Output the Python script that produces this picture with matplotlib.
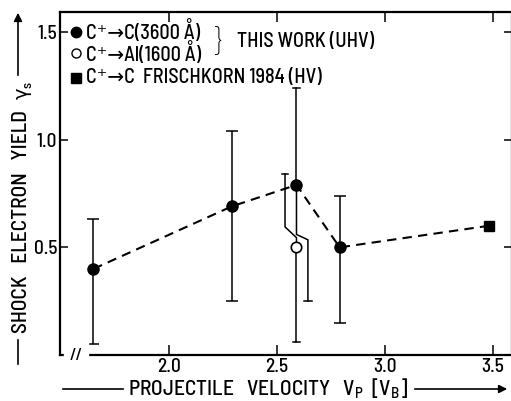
import matplotlib
matplotlib.use('Agg')
import matplotlib.pyplot as plt

# data
v_c = [1.65, 2.29, 2.59, 2.79]          # C+ -> C (3600 A), projectile velocity [v_B]
y_c = [0.40, 0.69, 0.79, 0.50]          # shock electron yield
y_c_hi = [0.63, 1.04, 1.24, 0.74]
y_c_lo = [0.05, 0.25, 0.25, 0.15]

v_al = [2.59]                            # C+ -> Al (1600 A)
y_al = [0.50]
y_al_hi = [0.84]
y_al_lo = [0.06]

v_fr = [3.48]                            # Frischkorn 1984 (HV)
y_fr = [0.60]

xticks = [2.0, 2.5, 3.0, 3.5]
yticks = [0.5, 1.0, 1.5]

fam = 'Barlow Semi Condensed'
plt.rcParams['font.family'] = [fam, 'DejaVu Sans']
plt.rcParams['font.weight'] = 'medium'
plt.rcParams['mathtext.fontset'] = 'custom'
plt.rcParams['mathtext.rm'] = fam
plt.rcParams['mathtext.it'] = fam

W, H = 511, 401
fig = plt.figure(figsize=(W/100, H/100), dpi=100)
ax = fig.add_axes([60/W, (H-355)/H, (512-60)/W, (355-12)/H])

# connecting dashed line through C targets + Frischkorn
ax.plot(v_c + v_fr, y_c + y_fr, 'k', ls=(0, (4.5, 3)), lw=1.5, zorder=2)

# simple error bars (all but the crowded 2.6 point)
for i in [0, 1, 3]:
    ax.errorbar(v_c[i], y_c[i], yerr=[[y_c[i]-y_c_lo[i]], [y_c_hi[i]-y_c[i]]],
                fmt='none', ecolor='k', elinewidth=1.1, capsize=4, capthick=1.1, zorder=1)

# crowded point at ~2.6: bars drawn with a side step so they don't overlap
dx = 0.053
x0 = v_c[2]
# filled point: upper straight, lower shifted right
ax.plot([x0, x0], [y_c[2], y_c_hi[2]], 'k', lw=1.1)
ax.plot([x0-0.018, x0+0.018], [y_c_hi[2]]*2, 'k', lw=1.1)
ax.plot([x0, x0, x0+dx, x0+dx], [y_c[2], 0.56, 0.535, y_c_lo[2]], 'k', lw=1.1)
ax.plot([x0+dx-0.018, x0+dx+0.018], [y_c_lo[2]]*2, 'k', lw=1.1)
# open point: upper shifted left, lower straight
xa = v_al[0]
ax.plot([xa-dx, xa-dx, xa, xa], [y_al_hi[0], 0.595, 0.545, y_al[0]], 'k', lw=1.1)
ax.plot([xa-dx-0.012, xa-dx+0.012], [y_al_hi[0]]*2, 'k', lw=1.1)
ax.plot([xa, xa], [y_al[0], y_al_lo[0]], 'k', lw=1.1)
ax.plot([xa-0.018, xa+0.018], [y_al_lo[0]]*2, 'k', lw=1.1)

ax.plot(v_c, y_c, 'ko', ms=8, zorder=3)
ax.plot(v_al, y_al, 'o', mfc='white', mec='k', mew=1.2, ms=7.5, zorder=3)
ax.plot(v_fr, y_fr, 'ks', ms=7.5, zorder=3)

ax.set_xlim(1.495, 3.588)
ax.set_ylim(0, 1.593)
ax.set_xticks(xticks)
ax.set_yticks(yticks)
ax.set_xticklabels([f'{t:.1f}' for t in xticks])
ax.set_yticklabels([f'{t:.1f}' for t in yticks])
ax.tick_params(direction='in', top=True, right=True, length=6, width=1.1,
               labelsize=14, pad=2)
ax.tick_params(axis='x', length=7.5)
for s in ax.spines.values():
    s.set_linewidth(1.6)

# axis break on x
ax.text(0.035, 0.0, '//', transform=ax.transAxes, ha='center', va='center',
        fontsize=12, backgroundcolor='white', clip_on=False)

# legend block
fs = 14.5
lx, tx = 0.036, 0.057
rows = [0.942, 0.880, 0.808]
ax.plot([lx], [rows[0]], 'ko', ms=7.5, transform=ax.transAxes, clip_on=False)
ax.plot([lx], [rows[1]], 'o', mfc='white', mec='k', ms=6.5, transform=ax.transAxes, clip_on=False)
ax.plot([lx], [rows[2]], 'ks', ms=7.5, transform=ax.transAxes, clip_on=False)
ax.text(tx, rows[0], 'C\u207a\u2192C(3600 \u00c5)', transform=ax.transAxes, va='center', fontsize=fs)
ax.text(tx, rows[1], 'C\u207a\u2192Al(1600 \u00c5)', transform=ax.transAxes, va='center', fontsize=fs)
ax.text(tx, rows[2], 'C\u207a\u2192C  FRISCHKORN 1984 (HV)', transform=ax.transAxes, va='center', fontsize=fs)
ax.text(0.338, 0.909, '}', transform=ax.transAxes, va='center', fontsize=24, weight='light')
ax.text(0.392, 0.913, 'THIS WORK (UHV)', transform=ax.transAxes, va='center', fontsize=fs)

# axis labels with their lines/arrows
def px(x, y):
    return (x/W, 1 - y/H)

fig.text(*px(268, 389), r'PROJECTILE   VELOCITY   $\mathrm{V}_{\mathrm{P}}$  [$\mathrm{V}_{\mathrm{B}}$]',
         ha='center', va='center', fontsize=15.5)
ax.annotate('', xy=px(126, 389), xytext=px(60, 389), xycoords='figure fraction',
            arrowprops=dict(arrowstyle='-', lw=1.2))
ax.annotate('', xy=px(510, 389), xytext=px(412, 389), xycoords='figure fraction',
            arrowprops=dict(arrowstyle='-|>', lw=1.2, color='k', mutation_scale=12))

fig.text(*px(22, 222), 'SHOCK   ELECTRON   YIELD', rotation=90, ha='center', va='center', fontsize=15.5)
fig.text(*px(22, 93), '\u03b3', rotation=90, ha='center', va='center', fontsize=14,
         family=['DejaVu Sans'])
fig.text(*px(28, 85), 's', rotation=90, ha='center', va='center', fontsize=10)
ax.annotate('', xy=px(18, 337), xytext=px(18, 367), xycoords='figure fraction',
            arrowprops=dict(arrowstyle='-', lw=1.2))
ax.annotate('', xy=px(18, 10), xytext=px(18, 78), xycoords='figure fraction',
            arrowprops=dict(arrowstyle='-|>', lw=1.2, color='k', mutation_scale=12))

fig.savefig('out.png', dpi=100)
